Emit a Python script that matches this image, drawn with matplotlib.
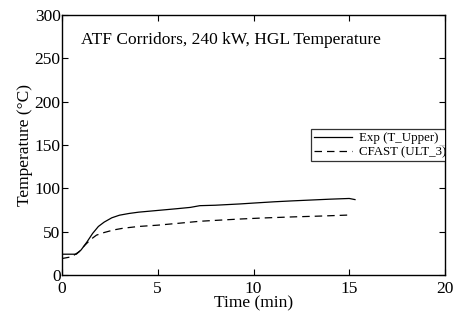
import matplotlib
matplotlib.use('Agg')
import matplotlib.pyplot as plt
import numpy as np

plt.rcParams['font.family'] = 'Liberation Serif'

# experimental upper layer temperature
exp_t = [0.0, 0.4, 0.75, 1.0, 1.3, 1.6, 1.9, 2.2, 2.6, 3.0, 3.5, 4.0, 5.0, 6.0, 6.7, 7.2, 8.0, 9.3, 10.0, 11.1, 12.0, 13.0, 14.0, 15.0, 15.3]
exp_T = [24, 24, 24, 29, 38, 48, 56, 61, 66, 69, 71, 72.5, 74.5, 76.5, 78, 80, 80.5, 82, 83, 84.5, 85.5, 86.5, 87.5, 88.3, 87]

# CFAST prediction
cf_t = [0.0, 0.5, 0.9, 1.2, 1.5, 1.8, 2.2, 2.7, 3.2, 4.0, 5.0, 6.0, 7.2, 8.0, 9.3, 10.5, 12.0, 13.5, 15.0]
cf_T = [19, 21, 27, 34.5, 41, 46, 49, 52, 54, 56, 57.5, 59.5, 62, 63, 64.6, 65.8, 67, 68, 69.2]

fig = plt.figure(figsize=(4.56, 3.18), dpi=100)
ax = fig.add_axes([62/456, 1-275/318, 383/456, 260/318])

ax.plot(exp_t, exp_T, 'k-', lw=0.9, label='Exp (T_Upper)')
ax.plot(cf_t, cf_T, 'k--', lw=0.9, dashes=(6, 4), label='CFAST (ULT_3)')

ax.set_xlim(0, 20)
ax.set_ylim(0, 300)
ax.set_xticks([0, 5, 10, 15, 20])
ax.set_yticks([0, 50, 100, 150, 200, 250, 300])
ax.tick_params(direction='in', top=True, right=True, labelsize=12.5, length=4)
ax.tick_params(axis='x', pad=4)
ax.tick_params(axis='y', pad=1)
for s in ax.spines.values():
    s.set_linewidth(1.0)

ax.set_xlabel('Time (min)', fontsize=12.5, labelpad=-1)
ax.set_ylabel('Temperature (°C)', fontsize=12.5, labelpad=1)
ax.text(1.0, 271, 'ATF Corridors, 240 kW, HGL Temperature', fontsize=12.5, va='center')

leg = ax.legend(loc='upper left', bbox_to_anchor=((311-62)/383, 1-(129-15)/260),
                fontsize=9.3, frameon=True, fancybox=False, borderaxespad=0,
                handlelength=2.9, borderpad=0.25, labelspacing=0.15, handletextpad=0.6)
leg.get_frame().set_edgecolor('black')
leg.get_frame().set_linewidth(0.9)
leg.get_frame().set_clip_box(ax.bbox)
leg.get_frame().set_clip_on(True)
for t in leg.get_texts():
    t.set_clip_box(ax.bbox)
    t.set_clip_on(True)

fig.savefig('out.png', dpi=100)
